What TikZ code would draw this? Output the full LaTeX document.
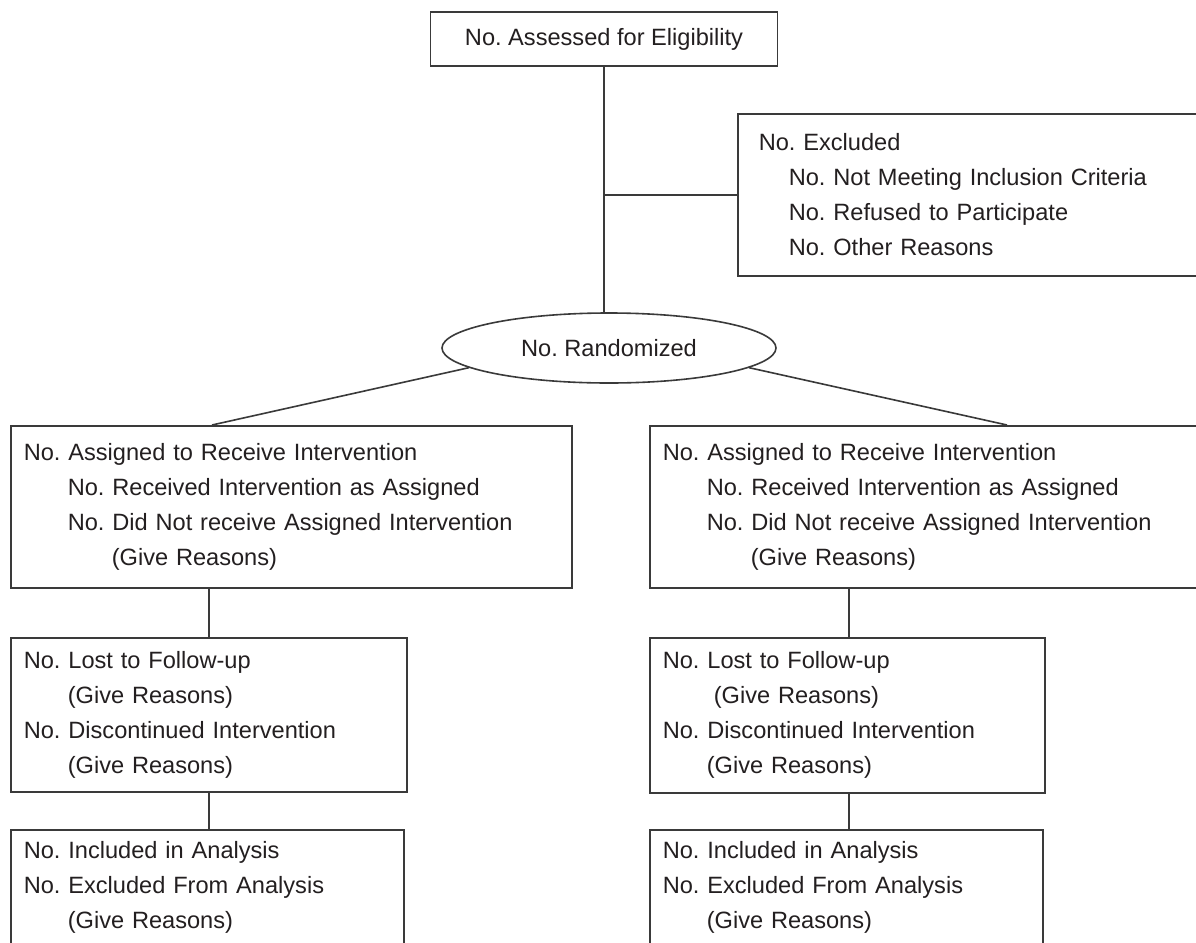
\documentclass[tikz,border=0pt]{standalone}
\usepackage{fontspec}
\setmainfont{Liberation Sans}
\usetikzlibrary{shapes.geometric}
\definecolor{ink}{HTML}{231F20}
\definecolor{rulec}{HTML}{3A3A3A}
\frenchspacing
\begin{document}
\frenchspacing
\begin{tikzpicture}[x=0.5pt,y=-0.5pt,
  every node/.style={font=\fontsize{11.8}{17.5}\selectfont\frenchspacing, text=ink},
  flowbox/.style={draw=rulec, line width=0.8pt, rectangle, anchor=north west,
    align=left, inner ysep=0pt, inner xsep=6.5pt},
  topbox/.style={draw=rulec, line width=0.8pt, rectangle, inner sep=0pt,
    minimum width=173.5pt, minimum height=27pt},
  randoval/.style={draw=rulec, line width=0.8pt, ellipse, inner sep=0pt,
    minimum width=167pt, minimum height=35pt},
  conn/.style={draw=rulec, line width=0.8pt}]
\useasboundingbox (0,0) rectangle (1196,943);
\fill[white] (0,0) rectangle (1196,943);
\clip (0,0) rectangle (1196,943);

\node[topbox] (top) at (604,39) {No. Assessed for Eligibility};

\node[flowbox, inner xsep=10.5pt, text width=215.5pt, minimum height=81pt] (excl) at (737,113)
  {No. Excluded\\\hspace*{15pt}No. Not Meeting Inclusion Criteria\\\hspace*{15pt}No. Refused to Participate\\\hspace*{15pt}No. Other Reasons};

\node[randoval] (rand) at (609,348) {No. Randomized};

\node[flowbox, text width=267.5pt, minimum height=81pt] (lassign) at (10,425)
  {No. Assigned to Receive Intervention\\\hspace*{22pt}No. Received Intervention as Assigned\\\hspace*{22pt}No. Did Not receive Assigned Intervention\\\hspace*{44pt}(Give Reasons)};
\node[flowbox, text width=267.5pt, minimum height=81pt] (rassign) at (649,425)
  {No. Assigned to Receive Intervention\\\hspace*{22pt}No. Received Intervention as Assigned\\\hspace*{22pt}No. Did Not receive Assigned Intervention\\\hspace*{44pt}(Give Reasons)};

\node[flowbox, text width=185pt, minimum height=77pt] (lfollow) at (10,637)
  {No. Lost to Follow-up\\\hspace*{22pt}(Give Reasons)\\No. Discontinued Intervention\\\hspace*{22pt}(Give Reasons)};
\node[flowbox, text width=184.5pt, minimum height=77.5pt] (rfollow) at (649,637)
  {No. Lost to Follow-up\\\hspace*{25.5pt}(Give Reasons)\\No. Discontinued Intervention\\\hspace*{22pt}(Give Reasons)};

\node[flowbox, text width=183.5pt, minimum height=58pt] (lanal) at (10,829)
  {No. Included in Analysis\\No. Excluded From Analysis\\\hspace*{22pt}(Give Reasons)};
\node[flowbox, text width=183.5pt, minimum height=58pt] (ranal) at (649,829)
  {No. Included in Analysis\\No. Excluded From Analysis\\\hspace*{22pt}(Give Reasons)};

\draw[conn] (top.south) -- (top.south |- rand.north);
\coordinate (br) at (top.south |- excl.west);
\draw[conn] (br) -- (excl.west);
\draw[conn] (rand.188) -- ([xshift=101pt]lassign.north west);
\draw[conn] (rand.-8) -- ([xshift=179pt]rassign.north west);
\draw[conn] ([xshift=99.5pt]lassign.south west) -- ([xshift=99.5pt]lfollow.north west);
\draw[conn] ([xshift=99.5pt]lfollow.south west) -- ([xshift=99.5pt]lanal.north west);
\draw[conn] ([xshift=100pt]rassign.south west) -- ([xshift=100pt]rfollow.north west);
\draw[conn] ([xshift=100pt]rfollow.south west) -- ([xshift=100pt]ranal.north west);
\end{tikzpicture}
\end{document}
